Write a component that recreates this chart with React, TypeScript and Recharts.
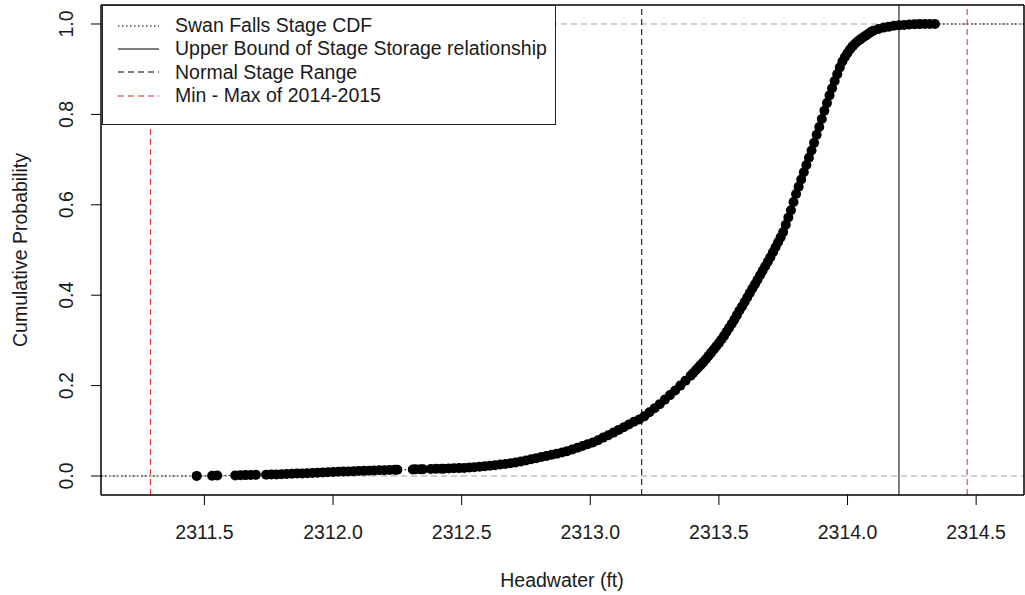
import React from "react";
import {
  ScatterChart, Scatter, XAxis, YAxis, ReferenceLine,
} from "recharts";

// stage readings (ft) and their cumulative probability
const stageFt = [
  2311.47, 2311.53, 2311.55, 2311.62, 2311.64, 2311.66, 2311.68, 2311.70, 2311.74, 2311.76,
  2311.78, 2311.80, 2311.82, 2311.84, 2311.86, 2311.88, 2311.90, 2311.92, 2311.94, 2311.96,
  2311.98, 2312.00, 2312.02, 2312.04, 2312.06, 2312.08, 2312.10, 2312.12, 2312.14, 2312.16,
  2312.18, 2312.20, 2312.22, 2312.24, 2312.25, 2312.31, 2312.32, 2312.34, 2312.35, 2312.38,
  2312.40, 2312.42, 2312.43, 2312.45, 2312.47, 2312.49, 2312.51, 2312.53, 2312.55, 2312.57,
  2312.59, 2312.61, 2312.63, 2312.65, 2312.67, 2312.69, 2312.71, 2312.73, 2312.75, 2312.77,
  2312.79, 2312.81, 2312.83, 2312.85, 2312.87, 2312.89, 2312.91, 2312.93, 2312.95, 2312.97,
  2312.99, 2313.01, 2313.03, 2313.05, 2313.07, 2313.09, 2313.11, 2313.13, 2313.15, 2313.17,
  2313.19, 2313.21, 2313.23, 2313.25, 2313.27, 2313.29, 2313.31, 2313.33, 2313.35, 2313.37,
  2313.39, 2313.40, 2313.41, 2313.42, 2313.43, 2313.44, 2313.45, 2313.46, 2313.47, 2313.48,
  2313.49, 2313.50, 2313.51, 2313.52, 2313.53, 2313.54, 2313.55, 2313.56, 2313.57, 2313.58,
  2313.59, 2313.60, 2313.61, 2313.62, 2313.63, 2313.64, 2313.65, 2313.66, 2313.67, 2313.68,
  2313.69, 2313.70, 2313.71, 2313.72, 2313.73, 2313.74, 2313.75, 2313.76, 2313.77, 2313.78,
  2313.79, 2313.80, 2313.81, 2313.82, 2313.83, 2313.84, 2313.85, 2313.86, 2313.87, 2313.88,
  2313.89, 2313.90, 2313.91, 2313.92, 2313.93, 2313.94, 2313.95, 2313.96, 2313.97, 2313.98,
  2313.99, 2314.00, 2314.01, 2314.02, 2314.03, 2314.04, 2314.05, 2314.06, 2314.07, 2314.08,
  2314.09, 2314.10, 2314.12, 2314.14, 2314.16, 2314.18, 2314.20, 2314.22, 2314.24, 2314.26,
  2314.28, 2314.30, 2314.32, 2314.34,
];
const cumProb = [
  0.0003, 0.0007, 0.0010, 0.0014, 0.0017, 0.0020, 0.0023, 0.0026, 0.0030, 0.0033,
  0.0036, 0.0040, 0.0045, 0.0050, 0.0054, 0.0058, 0.0062, 0.0067, 0.0072, 0.0078,
  0.0084, 0.0090, 0.0094, 0.0098, 0.0102, 0.0106, 0.0110, 0.0114, 0.0118, 0.0122,
  0.0126, 0.0130, 0.0133, 0.0136, 0.0138, 0.0145, 0.0147, 0.0150, 0.0151, 0.0155,
  0.0158, 0.0160, 0.0162, 0.0166, 0.0170, 0.0175, 0.0180, 0.0187, 0.0195, 0.0205,
  0.0215, 0.0227, 0.0240, 0.0253, 0.0267, 0.0283, 0.0300, 0.0320, 0.0345, 0.0370,
  0.0395, 0.0420, 0.0445, 0.0470, 0.0495, 0.0520, 0.0550, 0.0585, 0.0625, 0.0665,
  0.0705, 0.0740, 0.0790, 0.0850, 0.0900, 0.0960, 0.1020, 0.1080, 0.1140, 0.1200,
  0.1250, 0.1320, 0.1410, 0.1500, 0.1590, 0.1690, 0.1790, 0.1890, 0.2000, 0.2110,
  0.2220, 0.2280, 0.2340, 0.2400, 0.2460, 0.2520, 0.2590, 0.2660, 0.2730, 0.2800,
  0.2870, 0.2940, 0.3020, 0.3100, 0.3190, 0.3280, 0.3370, 0.3460, 0.3560, 0.3660,
  0.3750, 0.3850, 0.3950, 0.4050, 0.4150, 0.4240, 0.4340, 0.4440, 0.4540, 0.4640,
  0.4740, 0.4840, 0.4950, 0.5060, 0.5170, 0.5280, 0.5400, 0.5560, 0.5720, 0.5880,
  0.6060, 0.6240, 0.6400, 0.6560, 0.6720, 0.6880, 0.7040, 0.7200, 0.7370, 0.7550,
  0.7720, 0.7900, 0.8080, 0.8250, 0.8420, 0.8580, 0.8740, 0.8890, 0.9040, 0.9170,
  0.9270, 0.9360, 0.9440, 0.9510, 0.9570, 0.9620, 0.9660, 0.9700, 0.9740, 0.9780,
  0.9820, 0.9850, 0.9890, 0.9920, 0.9940, 0.9960, 0.9970, 0.9980, 0.9990, 0.9995,
  0.9997, 0.9999, 1.0000, 1.0000,
];

const xTicks = [2311.5, 2312.0, 2312.5, 2313.0, 2313.5, 2314.0, 2314.5];
const yTicks = [0, 0.2, 0.4, 0.6, 0.8, 1.0];
const xDomain = [2311.098, 2314.686];
const yDomain = [-0.042, 1.042];

const normalStageRange = [2313.2];
const upperBoundStorage = 2314.2;
const minMax20142015 = [2311.29, 2314.465];

const legendItems = [
  { label: "Swan Falls Stage CDF", color: "#000", dash: "1.5 2.5" },
  { label: "Upper Bound of Stage Storage relationship", color: "#000", dash: "" },
  { label: "Normal Stage Range", color: "#000", dash: "6 4" },
  { label: "Min - Max of 2014-2015", color: "#e0202a", dash: "6 4" },
];

const FONT = "'Liberation Sans', Arial, Helvetica, sans-serif";
const TXT = "#1a1a1a";
const FS = 19.5;

const data = stageFt.map((x, i) => ({ x, y: cumProb[i] }));

const XTick = (props: any) => {
  const { x, y, payload } = props;
  return (
    <text x={x} y={y + 32} textAnchor="middle" fontSize={FS} fontFamily={FONT} fill={TXT}>
      {payload.value.toFixed(1)}
    </text>
  );
};

const YTick = (props: any) => {
  const { y, payload } = props;
  const cx = 73;
  return (
    <text x={cx} y={y} transform={`rotate(-90, ${cx}, ${y})`} textAnchor="middle" fontSize={FS} fontFamily={FONT} fill={TXT}>
      {payload.value.toFixed(1)}
    </text>
  );
};

const Dot = (props: any) => <circle cx={props.cx} cy={props.cy} r={5} fill="#000" />;

export default function App() {
  return (
    <div style={{ position: "absolute", left: 0, top: 0, width: 1025, height: 595, background: "#fff", fontFamily: FONT }}>
      <ScatterChart width={1025} height={595} margin={{ top: 5, right: 1, bottom: 0, left: 0 }}>
        <XAxis
          type="number" dataKey="x" domain={xDomain} ticks={xTicks} allowDataOverflow
          axisLine={false} tickSize={10} tickLine={{ stroke: "#000" }} tick={<XTick />} height={100}
          label={{
            content: () => (
              <text x={562} y={587} textAnchor="middle" fontSize={FS} fontFamily={FONT} fill={TXT}>
                Headwater (ft)
              </text>
            ),
          }}
        />
        <YAxis
          type="number" dataKey="y" domain={yDomain} ticks={yTicks} allowDataOverflow
          axisLine={false} tickSize={10} tickLine={{ stroke: "#000" }} tick={<YTick />} width={101}
          label={{
            content: () => (
              <text x={27} y={250} transform="rotate(-90, 27, 250)" textAnchor="middle" fontSize={FS} fontFamily={FONT} fill={TXT}>
                Cumulative Probability
              </text>
            ),
          }}
        />
        <ReferenceLine y={0} stroke="#a0a0a0" strokeDasharray="6 4" />
        <ReferenceLine y={1} stroke="#a0a0a0" strokeDasharray="6 4" />
        <ReferenceLine
          segment={[{ x: xDomain[0], y: 0 }, { x: stageFt[0], y: 0 }]}
          stroke="#000" strokeDasharray="1.5 2.5"
        />
        <ReferenceLine
          segment={[{ x: stageFt[stageFt.length - 1], y: 1 }, { x: xDomain[1], y: 1 }]}
          stroke="#000" strokeDasharray="1.5 2.5"
        />
        {normalStageRange.map((v) => (
          <ReferenceLine key={v} x={v} stroke="#000" strokeDasharray="6 4" />
        ))}
        <ReferenceLine x={upperBoundStorage} stroke="#000" />
        {minMax20142015.map((v) => (
          <ReferenceLine key={v} x={v} stroke="#e0202a" strokeDasharray="6 4" />
        ))}
        <Scatter
          data={data} isAnimationActive={false} shape={<Dot />}
          line={{ stroke: "#000", strokeDasharray: "1.5 2.5" }} lineType="joint"
        />
        <ReferenceLine
          segment={[{ x: xDomain[0], y: yDomain[0] }, { x: xDomain[1], y: yDomain[0] }]}
          stroke="#000" strokeWidth={1.5}
        />
        <ReferenceLine
          segment={[{ x: xDomain[0], y: yDomain[1] }, { x: xDomain[1], y: yDomain[1] }]}
          stroke="#000" strokeWidth={1.5}
        />
        <ReferenceLine
          segment={[{ x: xDomain[0], y: yDomain[0] }, { x: xDomain[0], y: yDomain[1] }]}
          stroke="#000" strokeWidth={1.5}
        />
        <ReferenceLine
          segment={[{ x: xDomain[1], y: yDomain[0] }, { x: xDomain[1], y: yDomain[1] }]}
          stroke="#000" strokeWidth={1.5}
        />
      </ScatterChart>
      <div
        style={{
          position: "absolute", left: 102, top: 5, width: 454, height: 120, boxSizing: "border-box",
          border: "1.5px solid #222", background: "#fff", paddingTop: 8,
        }}
      >
        {legendItems.map((it) => (
          <div key={it.label} style={{ display: "flex", alignItems: "center", height: 23.3 }}>
            <svg width={72} height={10} style={{ flex: "none" }}>
              <line x1={15} x2={56} y1={5} y2={5} stroke={it.color} strokeWidth={1.2} strokeDasharray={it.dash || undefined} />
            </svg>
            <span style={{ fontSize: FS, color: TXT, whiteSpace: "nowrap", lineHeight: "23px" }}>{it.label}</span>
          </div>
        ))}
      </div>
    </div>
  );
}
